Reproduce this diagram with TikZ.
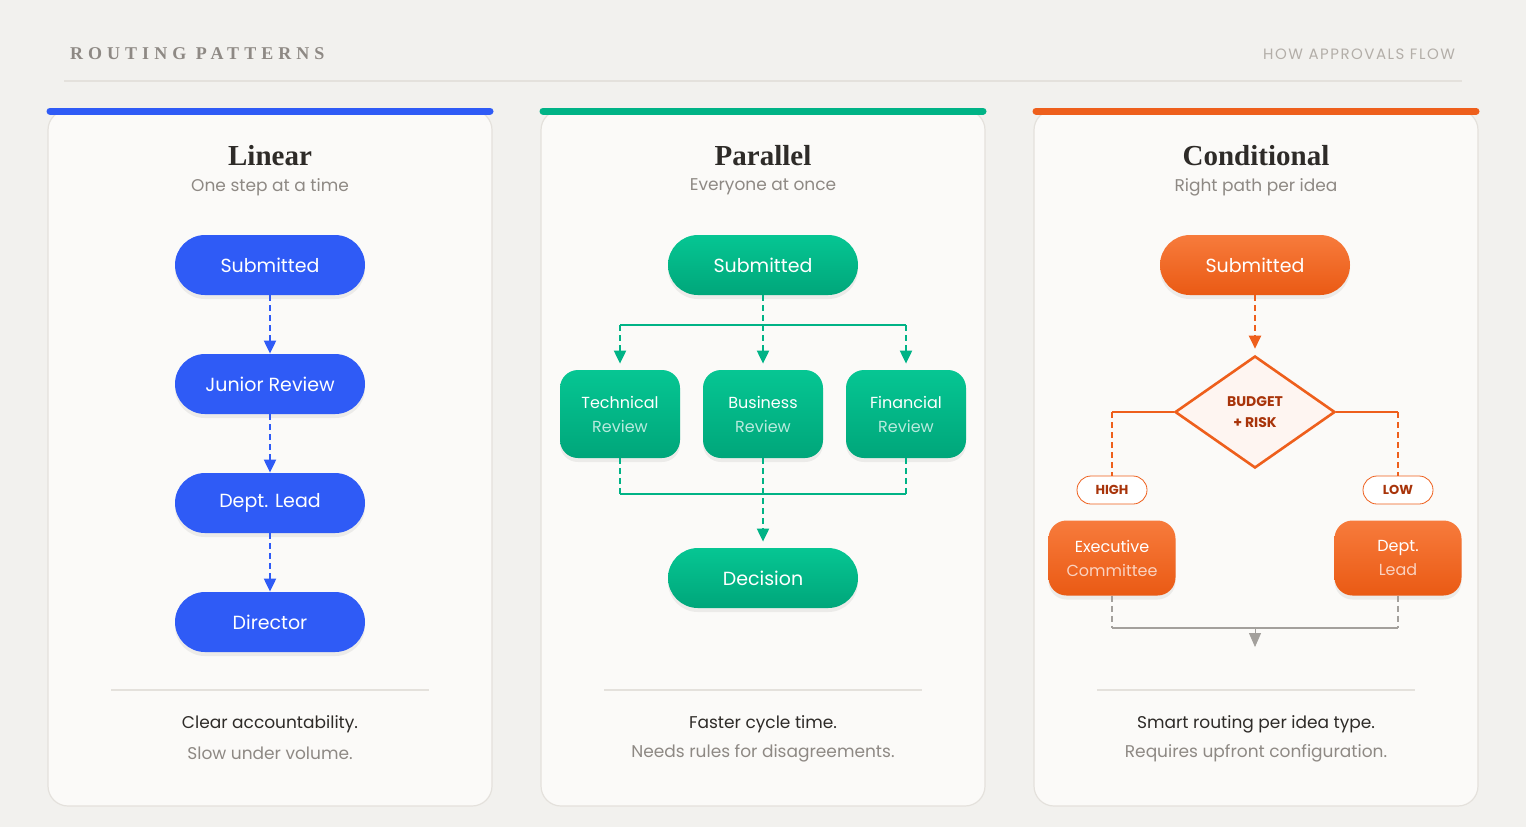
\documentclass[tikz,border=0pt]{standalone}
\usepackage{fontspec}
\setmainfont{Poppins}
\newfontfamily\ttlfont{Liberation Serif}
\newfontfamily\hdserif{Liberation Serif}[LetterSpace=28]
\newfontfamily\hdsans{Poppins}[LetterSpace=10]
\usetikzlibrary{shapes.geometric,arrows.meta,shadows}
\definecolor{bg}{HTML}{F2F1EE}
\definecolor{card}{HTML}{FBFAF8}
\definecolor{cardline}{HTML}{E4E1DC}
\definecolor{blu}{HTML}{2F5BF6}
\definecolor{grnA}{HTML}{06C693}
\definecolor{grnB}{HTML}{00A67A}
\definecolor{grn}{HTML}{00B386}
\definecolor{orA}{HTML}{F77B3C}
\definecolor{orB}{HTML}{EA5A14}
\definecolor{orn}{HTML}{EE5F1C}
\definecolor{ornT}{HTML}{A8340A}
\definecolor{dark}{HTML}{2E2B28}
\definecolor{mid}{HTML}{8E8984}
\definecolor{lgt}{HTML}{B3AEA8}
\definecolor{gry}{HTML}{A3A09C}
\tikzset{
  x=0.5pt,y=-0.5pt,
  cardbox/.style={draw=cardline,fill=card,rounded corners=10pt,line width=0.6pt},
  pill/.style={rounded corners=15pt,minimum width=95pt,minimum height=30pt,inner sep=0,text=white,
     font=\fontsize{9.5}{11}\selectfont,drop shadow={opacity=0.12,shadow xshift=0pt,shadow yshift=-2pt}},
  bpill/.style={pill,fill=blu},
  gpill/.style={pill,top color=grnA,bottom color=grnB},
  opill/.style={pill,top color=orA,bottom color=orB},
  gbox/.style={rounded corners=9pt,minimum width=60pt,minimum height=44pt,inner sep=0,top color=grnA,bottom color=grnB,
     align=center,font=\fontsize{8}{12}\selectfont,text=white,drop shadow={opacity=0.12,shadow xshift=0pt,shadow yshift=-2pt}},
  obox/.style={gbox,top color=orA,bottom color=orB,minimum width=63.5pt,minimum height=37.5pt},
  tag/.style={draw=orn,fill=white,rounded corners=7pt,minimum width=35pt,minimum height=14pt,inner sep=0,
     text=ornT,font=\fontsize{6.5}{7}\selectfont\bfseries},
  arr/.style={line width=1pt,dash pattern=on 3pt off 2pt,-{Triangle[width=6pt,length=6.5pt]}},
  ln/.style={line width=1pt},
  dln/.style={line width=1pt,dash pattern=on 3pt off 2pt},
  title/.style={font=\fontsize{14.5}{16}\ttlfont\bfseries,text=dark},
  sub/.style={font=\fontsize{8.5}{10}\selectfont,text=mid},
  foot/.style={font=\fontsize{8.5}{10}\selectfont,text=dark},
  foot2/.style={font=\fontsize{8.5}{10}\selectfont,text=mid},
}
\begin{document}
\begin{tikzpicture}
\fill[bg] (0,0) rectangle (1526,827);
\useasboundingbox (0,0) rectangle (1526,827);
% header
\node[anchor=west,text=mid,font=\fontsize{9}{10}\hdserif\bfseries] (hd) at (63,54) {ROUTING PATTERNS};
\node[anchor=east,text=lgt,font=\fontsize{7.5}{9}\hdsans] (hd2) at (1462,54) {HOW APPROVALS FLOW};
\draw[cardline,line width=1pt] (64,81) -- (1462,81);
% cards
\foreach \cx/\col in {270/blu,763/grn,1256/orn}{
  \draw[cardbox] (\cx-222,110) rectangle (\cx+222,806);
  \draw[\col,line width=3.5pt,line cap=round] (\cx-220,111) -- (\cx+220,111);
  \draw[cardline,line width=0.8pt] (\cx-159,690) -- (\cx+159,690);
}
% Linear
\node[title] (t1) at (270,156) {Linear};
\node[sub] (s1) at (270,187) {One step at a time};
\node[bpill] (l1) at (270,265) {Submitted};
\node[bpill] (l2) at (270,384) {Junior Review};
\node[bpill] (l3) at (270,503) {Dept. Lead};
\node[bpill] (l4) at (270,622) {Director};
\draw[arr,blu] (l1) -- (l2);
\draw[arr,blu] (l2) -- (l3);
\draw[arr,blu] (l3) -- (l4);
\node[foot] (f1) at (270,724) {Clear accountability.};
\node[foot2] (g1) at (270,753) {Slow under volume.};
% Parallel
\node[title] (t2) at (763,156) {Parallel};
\node[sub] (s2) at (763,187) {Everyone at once};
\node[gpill] (p0) at (763,265) {Submitted};
\node[gbox] (pa) at (620,414) {Technical\\\textcolor{white!72!grn}{Review}};
\node[gbox] (pb) at (763,414) {Business\\\textcolor{white!72!grn}{Review}};
\node[gbox] (pc) at (906,414) {Financial\\\textcolor{white!72!grn}{Review}};
\node[gpill] (pd) at (763,578) {Decision};
\coordinate (ja) at (620,325); \coordinate (jc) at (906,325); \coordinate (jb) at (763,325);
\coordinate (ka) at (620,494); \coordinate (kc) at (906,494); \coordinate (kb) at (763,494);
\draw[ln,grn] (ja) -- (jc);
\draw[dln,grn] (p0) -- (jb);
\draw[arr,grn] (ja) -- ([yshift=3pt]pa.north);
\draw[arr,grn] (jb) -- ([yshift=3pt]pb.north);
\draw[arr,grn] (jc) -- ([yshift=3pt]pc.north);
\draw[dln,grn] (pa) -- (ka);
\draw[dln,grn] (pc) -- (kc);
\draw[ln,grn] (ka) -- (kc);
\draw[arr,grn] (pb) -- ([yshift=3pt]pd.north);
\node[foot] (f2) at (763,724) {Faster cycle time.};
\node[foot2] (g2) at (763,753) {Needs rules for disagreements.};
% Conditional
\node[title] (t3) at (1256,156) {Conditional};
\node[sub] (s3) at (1256,187) {Right path per idea};
\node[opill] (c0) at (1255,265) {Submitted};
\node[diamond,draw=orn,line width=1.3pt,fill=orn!6,minimum width=80pt,minimum height=56pt,inner sep=0,
  align=center,text=ornT,font=\fontsize{7}{10.5}\selectfont\bfseries] (dm) at (1255,412) {BUDGET\\+ RISK};
\draw[arr,orn] (c0) -- ([yshift=3pt]dm.north);
\node[tag] (hi) at (1112,490) {HIGH};
\node[tag] (lo) at (1398,490) {LOW};
\node[obox] (ex) at (1112,558) {Executive\\\textcolor{white!72!orn}{Committee}};
\node[obox] (dl) at (1398,558) {Dept.\\\textcolor{white!72!orn}{Lead}};
\coordinate (hl) at (1112,412); \coordinate (hr) at (1398,412);
\draw[ln,orn] (dm.west) -- (hl);
\draw[dln,orn] (hl) -- (hi);
\draw[ln,orn] (dm.east) -- (hr);
\draw[dln,orn] (hr) -- (lo);
\coordinate (ma) at (1112,628); \coordinate (mb) at (1398,628); \coordinate (mc) at (1255,628); \coordinate (md) at (1255,647);
\draw[dln,gry] (ex) -- (ma);
\draw[dln,gry] (dl) -- (mb);
\draw[ln,gry] (ma) -- (mb);
\draw[gry,-{Triangle[width=6pt,length=7pt]}] (mc) -- (md);
\node[foot] (f3) at (1256,724) {Smart routing per idea type.};
\node[foot2] (g3) at (1256,753) {Requires upfront configuration.};
\end{tikzpicture}
\end{document}
